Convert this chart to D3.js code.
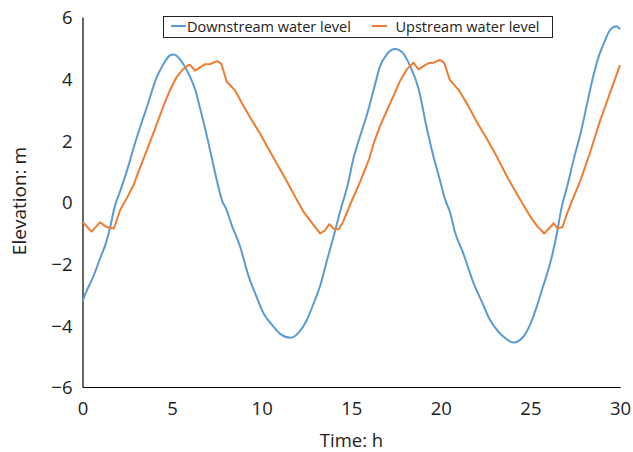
<!DOCTYPE html>
<html>
<head>
<meta charset="utf-8">
<script src="https://cdn.jsdelivr.net/npm/d3@7"></script>
<style>
  html, body { margin: 0; padding: 0; background: #fff; }
  svg { display: block; }
  text { font-family: "Open Sans", "Noto Sans", sans-serif; fill: #222; }
</style>
</head>
<body>
<svg id="chart" width="633" height="452"></svg>
<script>
// ---- data ----
const seriesNames = ["Downstream water level", "Upstream water level"];
const seriesColors = ["#5B9BD5", "#ED7D31"];

const downTime = [0, 0.25, 0.6, 1.0, 1.3, 1.55, 1.8, 2.1, 2.5, 2.85, 3.2, 3.6, 4.15, 4.5, 4.9, 5.1, 5.45, 5.8, 6.05, 6.3, 6.6, 6.95, 7.4, 7.8, 8.0, 8.35, 8.8, 9.25, 9.7, 10.1, 10.6, 11.0, 11.6, 12.1, 12.5, 12.9, 13.3, 13.65, 14.0, 14.4, 14.8, 15.1, 15.5, 15.9, 16.3, 16.6, 17.0, 17.45, 17.9, 18.3, 18.75, 19.2, 19.6, 19.9, 20.25, 20.5, 20.8, 21.25, 21.8, 22.3, 22.75, 23.2, 23.5, 24.05, 24.6, 25.0, 25.35, 25.7, 26.1, 26.45, 26.75, 27.05, 27.4, 27.8, 28.15, 28.5, 28.8, 29.1, 29.45, 29.8, 30];
const downLevel = [-3.23, -2.86, -2.42, -1.80, -1.35, -0.80, -0.15, 0.35, 1.05, 1.75, 2.40, 3.09, 4.06, 4.45, 4.76, 4.78, 4.62, 4.30, 4.00, 3.63, 2.95, 2.12, 0.95, 0.03, -0.20, -0.78, -1.45, -2.37, -3.05, -3.61, -4.0, -4.26, -4.40, -4.21, -3.85, -3.29, -2.65, -1.88, -1.15, -0.26, 0.55, 1.36, 2.15, 2.88, 3.75, 4.39, 4.80, 4.96, 4.82, 4.39, 3.69, 2.44, 1.45, 0.82, 0.06, -0.31, -1.0, -1.66, -2.59, -3.25, -3.83, -4.2, -4.37, -4.56, -4.37, -3.95, -3.40, -2.75, -1.99, -1.1, -0.15, 0.5, 1.35, 2.23, 3.15, 4.06, 4.7, 5.15, 5.58, 5.70, 5.60];

const upTime = [0, 0.5, 0.98, 1.3, 1.75, 2.1, 2.5, 2.85, 3.2, 3.6, 4.1, 4.5, 4.9, 5.26, 5.6, 5.85, 6.0, 6.28, 6.6, 6.85, 7.12, 7.3, 7.53, 7.75, 8.05, 8.5, 8.9, 9.4, 9.9, 10.4, 10.9, 11.4, 11.9, 12.35, 12.9, 13.26, 13.5, 13.78, 14.05, 14.3, 14.55, 15.0, 15.5, 16.0, 16.25, 16.6, 17.0, 17.4, 17.75, 18.1, 18.47, 18.75, 19.0, 19.3, 19.6, 19.95, 20.18, 20.5, 21.0, 21.5, 22.0, 22.55, 23.1, 23.7, 24.3, 25.0, 25.4, 25.77, 26.05, 26.3, 26.5, 26.78, 27.05, 27.4, 27.8, 28.3, 28.9, 29.45, 30];
const upLevel = [-0.64, -0.96, -0.66, -0.80, -0.86, -0.26, 0.15, 0.55, 1.1, 1.69, 2.45, 3.09, 3.65, 4.06, 4.3, 4.42, 4.45, 4.26, 4.38, 4.47, 4.47, 4.52, 4.57, 4.48, 3.90, 3.63, 3.2, 2.7, 2.23, 1.70, 1.19, 0.67, 0.14, -0.33, -0.75, -1.02, -0.94, -0.72, -0.88, -0.88, -0.64, 0.0, 0.66, 1.4, 1.90, 2.45, 2.98, 3.5, 3.96, 4.3, 4.52, 4.30, 4.40, 4.50, 4.52, 4.61, 4.52, 3.96, 3.63, 3.15, 2.6, 2.07, 1.5, 0.82, 0.2, -0.48, -0.8, -1.02, -0.85, -0.69, -0.85, -0.82, -0.37, 0.15, 0.71, 1.55, 2.66, 3.55, 4.44];

const xTicks = [0, 5, 10, 15, 20, 25, 30];
const yTicks = [-6, -4, -2, 0, 2, 4, 6];
const xTitle = "Time: h";
const yTitle = "Elevation: m";

// ---- layout ----
const svg = d3.select("#chart");
const mLeft = 82.5, mRight = 620, mTop = 17, mBottom = 387;

const x = d3.scaleLinear().domain([0, 30]).range([mLeft, mRight]);
const y = d3.scaleLinear().domain([-6, 6]).range([mBottom, mTop]);

const fmt = v => (v < 0 ? "\u2212" + Math.abs(v) : String(v));

// axes
const xAxis = svg.append("g").attr("transform", `translate(0,${mBottom})`)
  .call(d3.axisBottom(x).tickValues(xTicks).tickSize(0).tickPadding(10).tickFormat(fmt));
const yAxis = svg.append("g").attr("transform", `translate(${mLeft},0)`)
  .call(d3.axisLeft(y).tickValues(yTicks).tickSize(0).tickPadding(10).tickFormat(fmt));

[xAxis, yAxis].forEach(g => {
  g.select(".domain").attr("stroke", "#000").attr("stroke-width", 1.2);
  g.selectAll("text").style("font-family", '"Open Sans", sans-serif')
    .style("font-size", "18.5px").attr("fill", "#222");
});
xAxis.selectAll("text").attr("dy", "0.95em");
yAxis.selectAll("text").attr("dy", "0.36em");

// lines
const curves = [d3.curveMonotoneX, d3.curveLinear];
const series = [
  d3.zip(downTime, downLevel),
  d3.zip(upTime, upLevel)
];
svg.append("g").selectAll("path").data(series).join("path")
  .attr("d", (d, i) => d3.line().curve(curves[i]).x(p => x(p[0])).y(p => y(p[1]))(d))
  .attr("fill", "none")
  .attr("stroke", (d, i) => seriesColors[i])
  .attr("stroke-width", 2)
  .attr("stroke-linejoin", "round");

// titles
svg.append("text").attr("x", 351.5).attr("y", 447).attr("text-anchor", "middle")
  .style("font-size", "18.5px").text(xTitle);
svg.append("text").attr("transform", "translate(26,201) rotate(-90)").attr("text-anchor", "middle")
  .style("font-size", "19px").text(yTitle);

// legend
const leg = svg.append("g");
leg.append("rect").attr("x", 163.5).attr("y", 16.5).attr("width", 389).attr("height", 21)
  .attr("fill", "#fff").attr("stroke", "#222").attr("stroke-width", 1);
const legX = [171, 372];
seriesNames.forEach((name, i) => {
  leg.append("line").attr("x1", legX[i]).attr("x2", legX[i] + 15)
    .attr("y1", 26).attr("y2", 26).attr("stroke", seriesColors[i]).attr("stroke-width", 2);
  leg.append("text").attr("x", legX[i] + (i === 0 ? 16 : 23.5)).attr("y", 31.5)
    .style("font-size", "14.5px").text(name);
});
</script>
</body>
</html>
